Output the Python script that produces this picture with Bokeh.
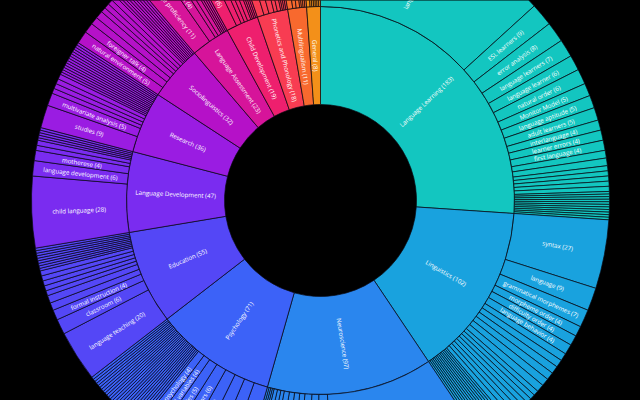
import math
from bokeh.plotting import figure
from bokeh.models import ColumnDataSource
from bokeh.core.properties import value
from bokeh.embed import file_html
from bokeh.resources import INLINE

# ---------------- data ----------------
parents = ["Language Learning", "Linguistics", "Neuroscience", "Psychology", "Education",
           "Language Development", "Research", "Sociolinguistics", "Language Assessment",
           "Child Development", "Phonetics and Phonology", "Multilingualism", "General"]
parent_values = [183, 102, 97, 71, 55, 47, 36, 32, 23, 19, 18, 11, 8]
parent_colors = ["#13C6C0", "#19A2DE", "#2A86EE", "#3C62F8", "#5447F6", "#7A2CF0", "#9A1CE2",
                 "#B511C8", "#D6149A", "#EE1F6E", "#F83C52", "#F8692E", "#F39019"]

ll_labels = ["language learning", "ESL learners", "error analysis", "language learners", "language learner",
             "natural order", "Monitor Model", "language aptitude", "adult learners", "interlanguage",
             "learner errors", "first language"]
ll_values = [93, 9, 8, 7, 6, 6, 5, 5, 5, 4, 4, 4, 3, 3, 2, 2, 2, 2, 2, 1, 1, 1, 1, 1, 1, 1, 1, 1, 1, 1]

li_labels = ["syntax", "language", "grammatical morphemes", "morpheme order", "difficulty order", "language behavior"]
li_values = [27, 9, 7, 4, 4, 4, 3, 3, 3, 3, 3, 3, 2, 2, 2, 2, 2, 2, 2, 2,
             1, 1, 1, 1, 1, 1, 1, 1, 1, 1, 1, 1, 1]

ne_labels = ["brain", "aphasia", "lateralization", "neurolinguistics"]
ne_values = [62, 5, 4, 4, 3, 3, 3, 3, 2, 2, 2, 1, 1, 1, 1]

ps_labels = ["motivation", "anxiety", "cognition", "memory", "learner factors", "attitudes",
             "individual variables", "social psychology"]
ps_values = [8, 6, 6, 6, 6, 5, 4, 4] + [1] * 26

ed_labels = ["language teaching", "classroom", "formal instruction"]
ed_values = [20, 6, 4, 3, 3, 2, 2, 2, 2, 2, 1, 1, 1, 1, 1, 1, 1, 1, 1]

ld_labels = ["child language", "language development", "motherese"]
ld_values = [28, 6, 4, 2, 2, 1, 1, 1, 1, 1]

re_labels = ["studies", "multivariate analysis"]
re_values = [9, 5, 2, 2, 2, 2] + [1] * 14

so_labels = ["natural environment", "foreigner talk"]
so_values = [5, 4, 3, 3, 2, 2, 2, 2] + [1] * 9

la_labels = ["language proficiency", "test"]
la_values = [11, 4, 2, 2, 1, 1, 1, 1]

cd_labels = ["child learners"]
cd_values = [6, 3, 2, 2, 2, 1, 1, 1, 1]

ph_labels = ["pronunciation"]
ph_values = [4, 3, 3, 2, 2, 1, 1, 1, 1]

mu_labels = []
mu_values = [3, 2, 2, 1, 1, 1, 1]

ge_labels = []
ge_values = [2, 1, 1, 1, 1, 1, 1]

children = [(ll_labels, ll_values), (li_labels, li_values), (ne_labels, ne_values), (ps_labels, ps_values),
            (ed_labels, ed_values), (ld_labels, ld_values), (re_labels, re_values), (so_labels, so_values),
            (la_labels, la_values), (cd_labels, cd_values), (ph_labels, ph_values), (mu_labels, mu_values),
            (ge_labels, ge_values)]

# ---------------- geometry ----------------
R0, R1, R2 = 96, 194, 289
total = sum(parent_values)
unit = 2 * math.pi / total


def text_angle(theta):
    phi = math.pi / 2 - theta
    if theta > math.pi:
        phi += math.pi
    return phi


wedges = dict(start=[], end=[], inner=[], outer=[], color=[])
labels = dict(x=[], y=[], text=[], angle=[])


def add(t0, t1, ri, ro, color, text):
    wedges["start"].append(math.pi / 2 - t1)
    wedges["end"].append(math.pi / 2 - t0)
    wedges["inner"].append(ri)
    wedges["outer"].append(ro)
    wedges["color"].append(color)
    if text:
        tm = (t0 + t1) / 2
        rm = (ri + ro) / 2
        labels["x"].append(rm * math.sin(tm))
        labels["y"].append(rm * math.cos(tm))
        labels["text"].append(text)
        labels["angle"].append(text_angle(tm))


cum = 0.0
for name, v, col, (clabs, cvals) in zip(parents, parent_values, parent_colors, children):
    t0 = cum * unit
    t1 = (cum + v) * unit
    add(t0, t1, R0, R1, col, f"{name} ({v})")
    c = cum
    for i, cv in enumerate(cvals):
        lab = f"{clabs[i]} ({cv})" if i < len(clabs) else ""
        add(c * unit, (c + cv) * unit, R1, R2, col, lab)
        c += cv
    cum += v

W, H = 640, 400
p = figure(width=W, height=H, x_range=(-W / 2, W / 2), y_range=(-H / 2, H / 2),
           output_backend="svg", toolbar_location=None, min_border=0,
           x_axis_type=None, y_axis_type=None)
p.grid.visible = False
p.background_fill_color = "black"
p.border_fill_color = "black"
p.outline_line_color = None

p.annular_wedge(x=0, y=0, inner_radius="inner", outer_radius="outer",
                start_angle="start", end_angle="end", fill_color="color",
                line_color="#0a0a14", line_width=0.7, source=ColumnDataSource(wedges))

p.text(x="x", y="y", text="text", angle="angle", source=ColumnDataSource(labels),
       text_align="center", text_baseline="middle", text_color="white",
       text_font=value("Open Sans"), text_font_size=value("6.2px"))

template = """{% block preamble %}<style>html, body { background-color: #000000; margin: 0; padding: 0; overflow: hidden; }</style>{% endblock %}"""
open("out.html", "w").write(file_html(p, INLINE, title="Sunburst", template=template))
